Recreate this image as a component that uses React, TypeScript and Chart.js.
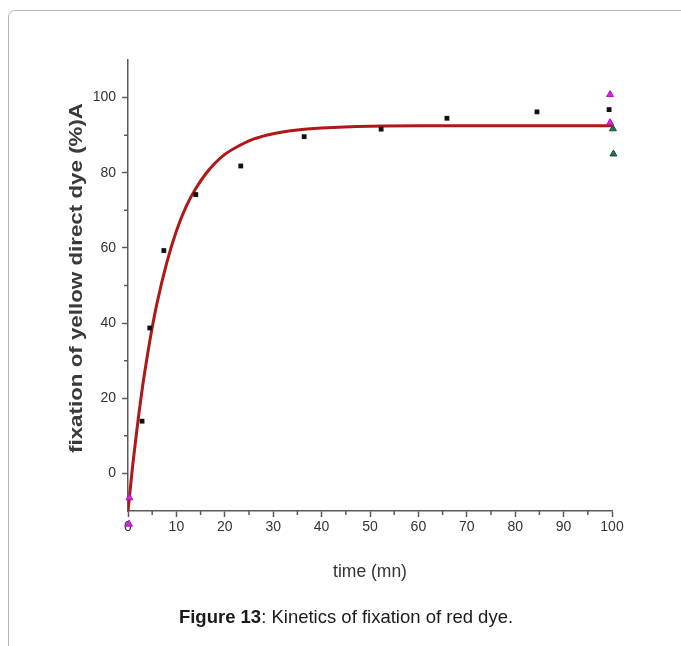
import React, { useEffect, useRef } from "react";
import { Chart, registerables } from "chart.js";

Chart.register(...registerables);

// Experimental points (black squares)
const timeMeasured = [2.9, 4.5, 7.4, 14, 23.3, 36.4, 52.3, 65.9, 84.5, 99.4];
const fixationMeasured = [13.9, 38.7, 59.3, 74.2, 81.8, 89.6, 91.6, 94.5, 96.2, 96.8];

// Fitted curve (dark red)
const timeFit = [0, 1, 2, 3, 4, 5, 6, 8, 10, 12, 14, 16, 18, 20, 23, 26, 30, 35, 40, 50, 60, 80, 100];
const fixationFit = [-10, 2.5, 13.3, 23, 31.3, 38.8, 45.3, 56, 64.5, 71, 75.8, 79.6, 82.6, 84.9, 87.2, 89, 90.4, 91.4, 91.9, 92.4, 92.5, 92.5, 92.5];

// Magenta triangles
const timeMagenta = [0.3, 0.2, 99.6, 99.6];
const fixationMagenta = [-6.5, -13.5, 100.8, 93.3];

// Green triangles
const timeGreen = [100.2, 100.3];
const fixationGreen = [91.7, 85];

const xMajorTicks = [0, 10, 20, 30, 40, 50, 60, 70, 80, 90, 100];
const xMinorTicks = [5, 15, 25, 35, 45, 55, 65, 75, 85, 95];
const yMajorTicks = [0, 20, 40, 60, 80, 100];
const yMinorTicks = [10, 30, 50, 70, 90];

const xTitle = "time (mn)";
const yTitle = "fixation of yellow direct dye (%)A";

const toPts = (xs: number[], ys: number[]) => xs.map((x, i) => ({ x, y: ys[i] }));

const AXIS_COLOR = "#5a5a5a";
const TEXT_COLOR = "#333333";
const FONT = "'Liberation Sans', Arial, sans-serif";

const drawTriangle = (ctx: CanvasRenderingContext2D, x: number, y: number, r: number, fill: string, stroke: string) => {
  const h = r * 1.5;
  ctx.beginPath();
  ctx.moveTo(x, y - r);
  ctx.lineTo(x + h * 0.58, y + r * 0.5);
  ctx.lineTo(x - h * 0.58, y + r * 0.5);
  ctx.closePath();
  ctx.fillStyle = fill;
  ctx.strokeStyle = stroke;
  ctx.lineWidth = 1;
  ctx.fill();
  ctx.stroke();
};

const extrasPlugin = {
  id: "extras",
  afterDraw(chart: any) {
    const { ctx, chartArea, scales } = chart;
    const xs = scales.x;
    const ys = scales.y;
    ctx.save();
    ctx.strokeStyle = AXIS_COLOR;
    ctx.lineWidth = 1.5;
    ctx.beginPath();
    xMinorTicks.forEach((v) => {
      const px = xs.getPixelForValue(v);
      ctx.moveTo(px, chartArea.bottom);
      ctx.lineTo(px, chartArea.bottom + 4);
    });
    yMinorTicks.forEach((v) => {
      const py = ys.getPixelForValue(v);
      ctx.moveTo(chartArea.left, py);
      ctx.lineTo(chartArea.left - 4, py);
    });
    ctx.stroke();

    // magenta markers lying outside the plot area (Chart.js skips them)
    timeMagenta.forEach((t, i) => {
      const v = fixationMagenta[i];
      if (v < -10 || v > 110) {
        drawTriangle(ctx, xs.getPixelForValue(t), ys.getPixelForValue(v), 4, "#dd22dd", "#b010c0");
      }
    });

    ctx.fillStyle = TEXT_COLOR;
    ctx.textAlign = "center";
    ctx.textBaseline = "middle";
    ctx.font = `17.5px ${FONT}`;
    ctx.fillText(xTitle, 370, chartArea.bottom + 61);

    ctx.translate(77, 278);
    ctx.rotate(-Math.PI / 2);
    ctx.font = `bold 19px ${FONT}`;
    const w = ctx.measureText(yTitle).width;
    ctx.scale(350 / w, 1);
    ctx.fillStyle = "#3a3a3a";
    ctx.fillText(yTitle, 0, 0);
    ctx.restore();
  },
};

export default function App() {
  const canvasRef = useRef<HTMLCanvasElement | null>(null);

  useEffect(() => {
    if (!canvasRef.current) return;
    const chart = new Chart(canvasRef.current, {
      type: "scatter",
      data: {
        datasets: [
          {
            label: "fit",
            data: toPts(timeFit, fixationFit),
            showLine: true,
            borderColor: "#b01818",
            borderWidth: 3,
            pointRadius: 0,
            cubicInterpolationMode: "monotone",
            order: 2,
          } as any,
          {
            label: "measured",
            data: toPts(timeMeasured, fixationMeasured),
            pointStyle: "rect",
            pointRadius: 3.4,
            backgroundColor: "#111111",
            borderColor: "#111111",
            borderWidth: 0,
            order: 1,
            clip: false,
          } as any,
          {
            label: "magenta",
            data: toPts(timeMagenta, fixationMagenta),
            pointStyle: "triangle",
            pointRadius: 4,
            backgroundColor: "#dd22dd",
            borderColor: "#b010c0",
            borderWidth: 1,
            order: 0,
            clip: false,
          } as any,
          {
            label: "green",
            data: toPts(timeGreen, fixationGreen),
            pointStyle: "triangle",
            pointRadius: 4,
            backgroundColor: "#1e8040",
            borderColor: "#224433",
            borderWidth: 1,
            order: 0,
            clip: false,
          } as any,
        ],
      },
      options: {
        animation: false,
        responsive: false,
        maintainAspectRatio: false,
        layout: { padding: { left: 0, right: 69, top: 60, bottom: 0 } },
        plugins: {
          legend: { display: false },
          tooltip: { enabled: false },
          title: { display: false },
        },
        scales: {
          x: {
            type: "linear",
            min: 0,
            max: 100,
            afterBuildTicks: (scale: any) => {
              scale.ticks = xMajorTicks.map((v) => ({ value: v }));
            },
            afterFit: (scale: any) => {
              scale.height = 135;
            },
            grid: {
              display: true,
              drawOnChartArea: false,
              drawTicks: true,
              tickLength: 6,
              tickColor: AXIS_COLOR,
              tickWidth: 1.5,
            },
            border: { display: true, color: AXIS_COLOR, width: 1.5 },
            ticks: {
              color: TEXT_COLOR,
              font: { family: FONT, size: 14 },
              padding: 2,
              maxRotation: 0,
              autoSkip: false,
            },
          },
          y: {
            type: "linear",
            min: -10,
            max: 110,
            afterBuildTicks: (scale: any) => {
              scale.ticks = yMajorTicks.map((v) => ({ value: v }));
            },
            afterFit: (scale: any) => {
              scale.width = 128;
            },
            grid: {
              display: true,
              drawOnChartArea: false,
              drawTicks: true,
              tickLength: 6,
              tickColor: AXIS_COLOR,
              tickWidth: 1.5,
            },
            border: { display: true, color: AXIS_COLOR, width: 1.5 },
            ticks: {
              color: TEXT_COLOR,
              font: { family: FONT, size: 14 },
              padding: 6,
              autoSkip: false,
            },
          },
        },
      } as any,
      plugins: [extrasPlugin],
    });
    return () => chart.destroy();
  }, []);

  return (
    <div
      style={{
        position: "fixed",
        left: 0,
        top: 0,
        width: 681,
        height: 646,
        overflow: "hidden",
        background: "#ffffff",
      }}
    >
      <div
        style={{
          position: "absolute",
          left: 8,
          top: 10,
          width: 720,
          height: 720,
          border: "1px solid #b5b5b5",
          borderRadius: 7,
          boxSizing: "border-box",
        }}
      />
      <canvas
        ref={canvasRef}
        width={681}
        height={646}
        style={{ position: "absolute", left: 0, top: 0, width: 681, height: 646 }}
      />
      <div
        style={{
          position: "absolute",
          left: 0,
          width: 692,
          top: 606,
          textAlign: "center",
          fontFamily: FONT,
          fontSize: 18.5,
          lineHeight: "22px",
          color: "#1a1a1a",
        }}
      >
        <b>Figure 13</b>: Kinetics of fixation of red dye.
      </div>
    </div>
  );
}
